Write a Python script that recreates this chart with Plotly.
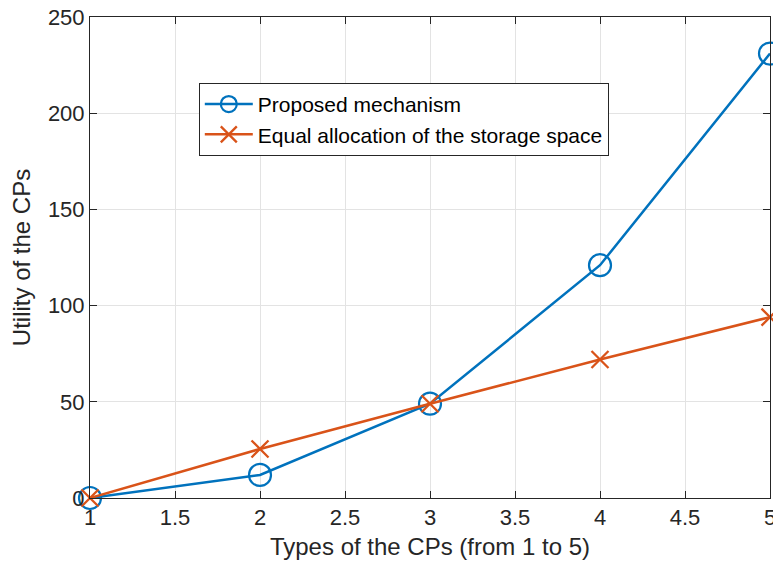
import plotly.graph_objects as go

cp_types = [1, 2, 3, 4, 5]
proposed = [0, 12, 49, 121, 231]
equal_alloc = [0, 25.5, 49, 72, 94]

blue = '#0072BD'
orange = '#D95319'
font = 'Liberation Sans, Arial, sans-serif'

fig = go.Figure()

fig.add_trace(go.Scatter(
    x=cp_types, y=proposed, mode='lines+markers', name='Proposed mechanism',
    line=dict(color=blue, width=2.5),
    marker=dict(symbol='circle-open', size=22, color=blue, line=dict(width=2.2)),
    cliponaxis=False))

fig.add_trace(go.Scatter(
    x=cp_types, y=equal_alloc, mode='lines+markers',
    name='Equal allocation of the storage space',
    line=dict(color=orange, width=2.5),
    marker=dict(symbol='x-thin-open', size=17, color=orange, line=dict(width=2.3, color=orange)),
    cliponaxis=False))

axis_common = dict(
    showgrid=True, gridcolor='#e3e3e3', gridwidth=1,
    showline=True, linecolor='#262626', linewidth=1,
    mirror='ticks', ticks='inside', ticklen=7, tickcolor='#262626',
    zeroline=False, automargin=False, ticklabeloverflow='allow',
    tickfont=dict(family=font, size=22, color='#262626'),
)

fig.update_xaxes(range=[1, 5], dtick=0.5,
                 title=dict(text='Types of the CPs (from 1 to 5)',
                            font=dict(family=font, size=24, color='#262626'), standoff=8),
                 **axis_common)
fig.update_yaxes(range=[0, 250], dtick=50,
                 title=dict(text='Utility of the CPs',
                            font=dict(family=font, size=24, color='#262626'), standoff=10),
                 **axis_common)

# the page body adds an 8px offset, so the figure is sized to fit inside it
fig.update_layout(
    width=773, height=563,
    margin=dict(l=82, r=11, t=9, b=73),
    plot_bgcolor='white', paper_bgcolor='white',
    legend=dict(x=0.16, y=0.863, xanchor='left', yanchor='top',
                bgcolor='white', bordercolor='#262626', borderwidth=1,
                font=dict(family=font, size=21, color='black'),
                tracegroupgap=0, itemwidth=48),
)

fig.write_html('out.html')
